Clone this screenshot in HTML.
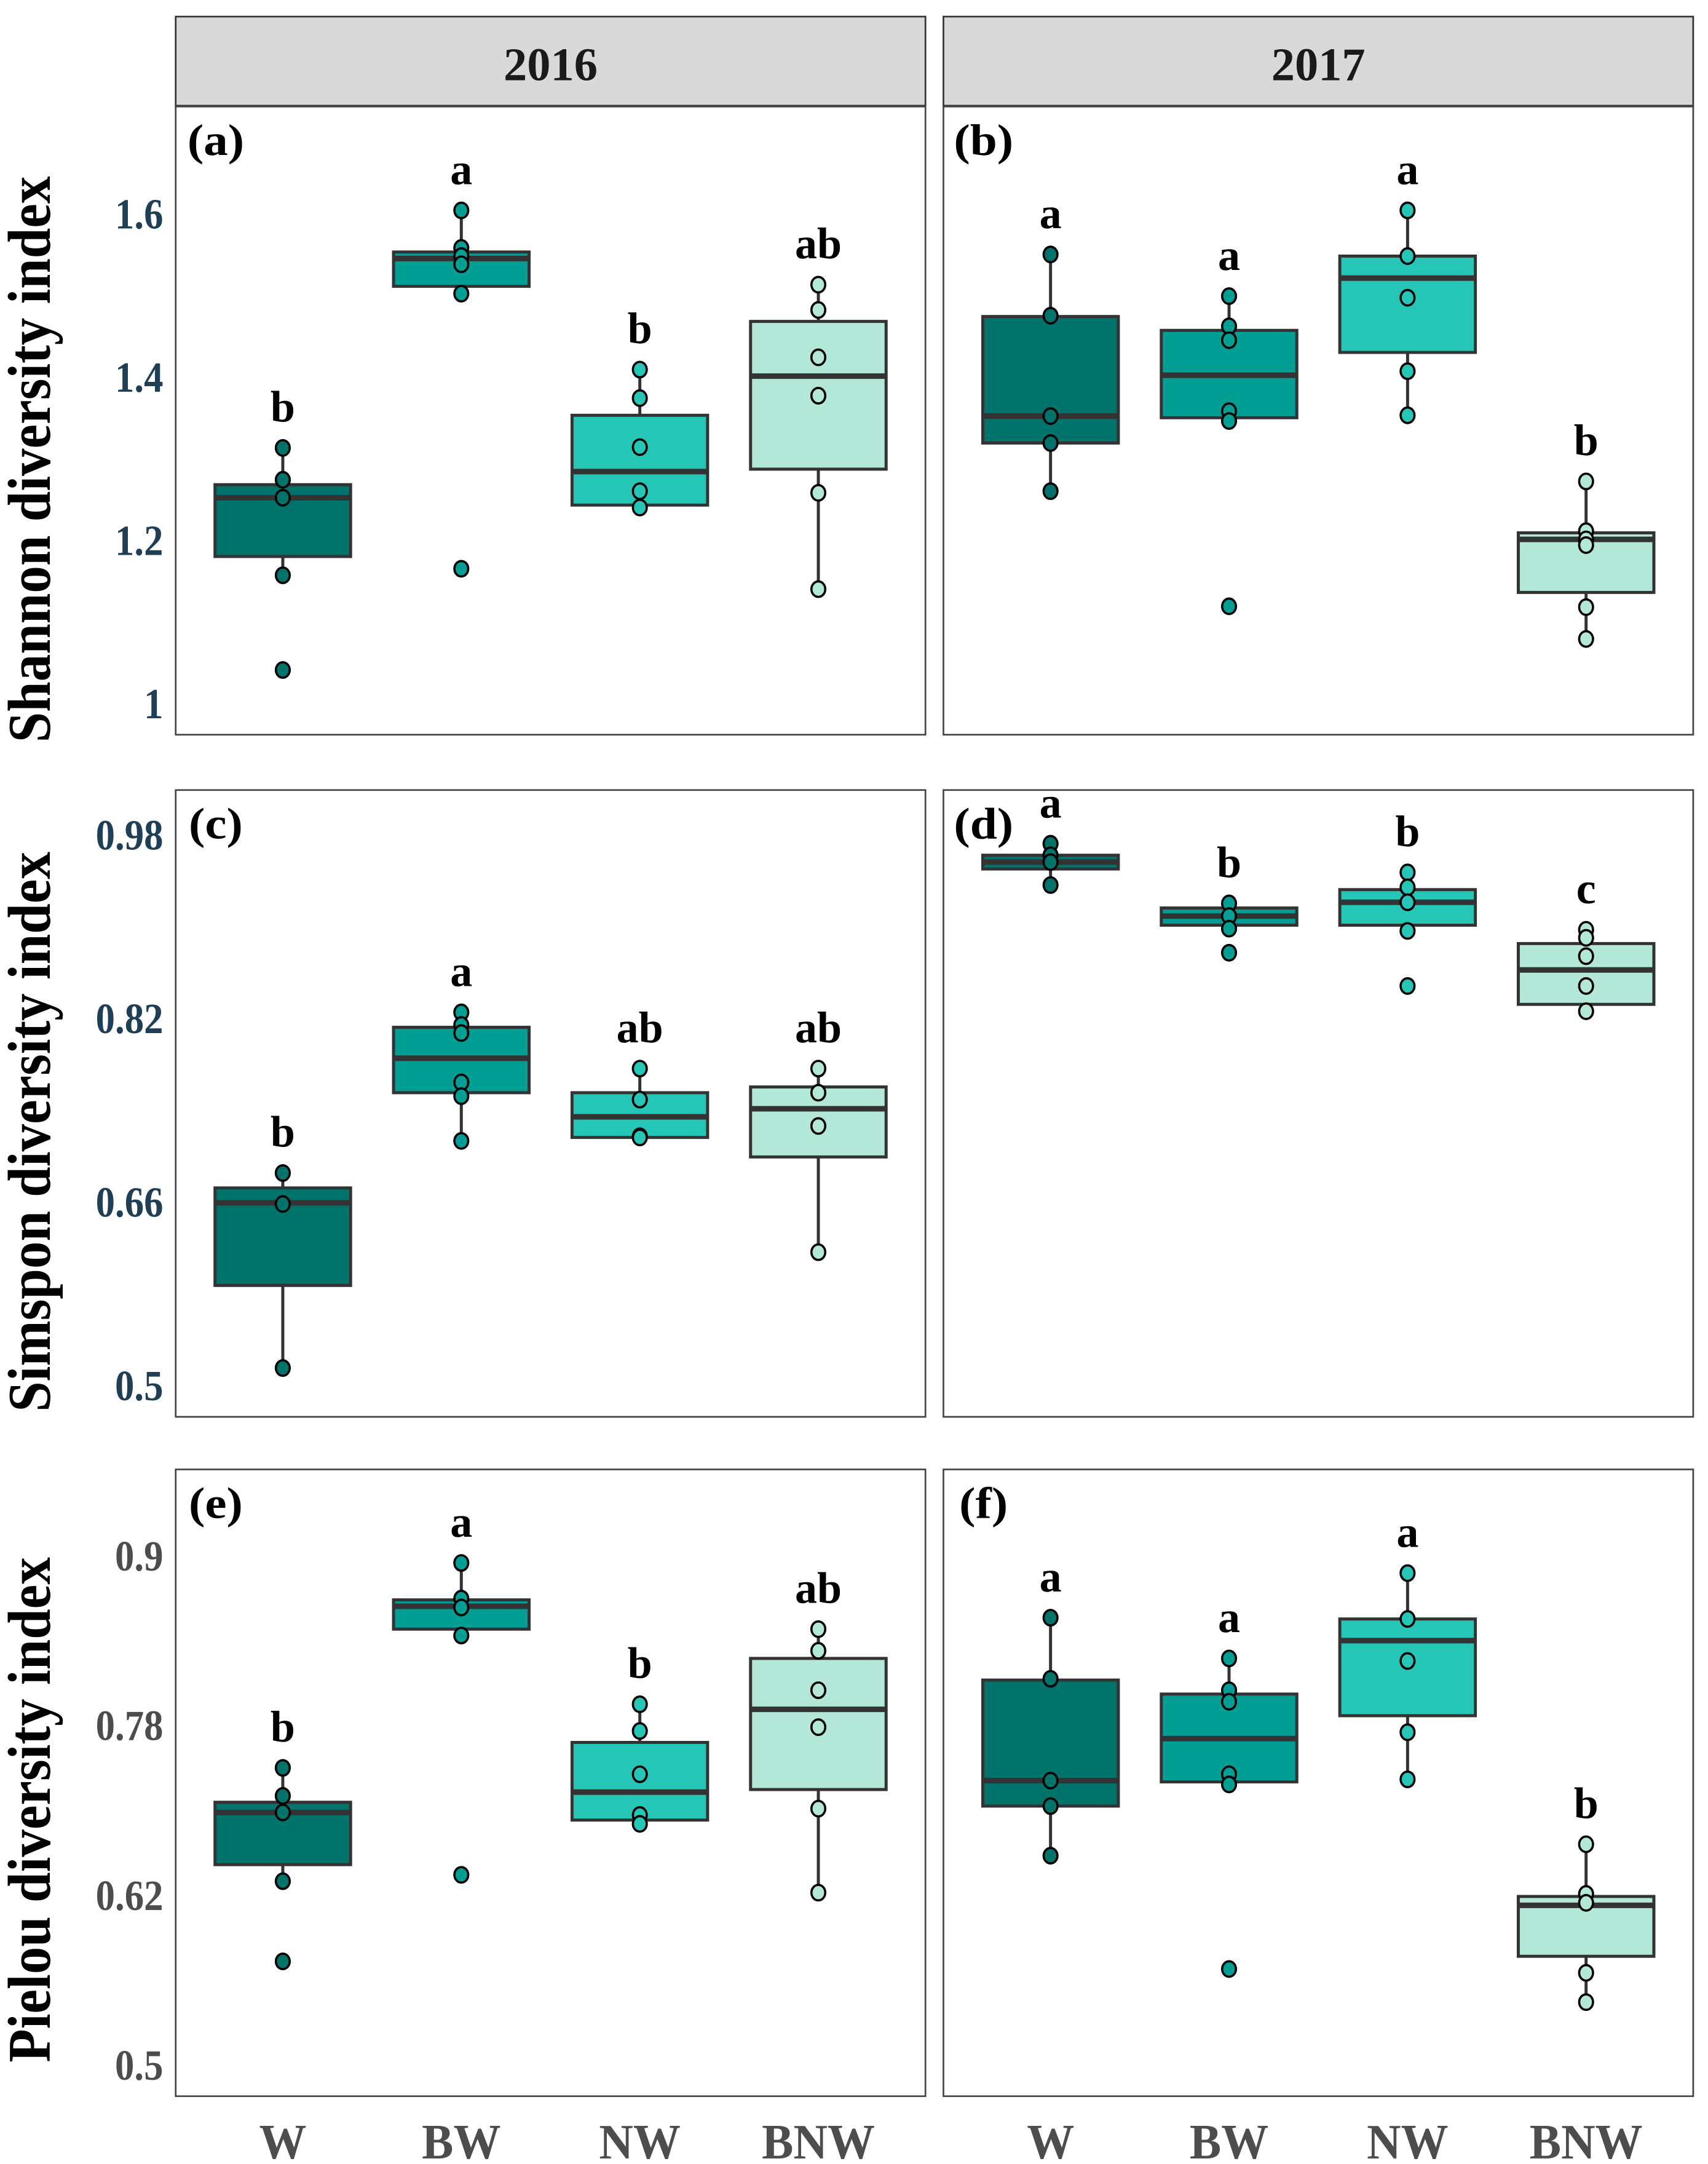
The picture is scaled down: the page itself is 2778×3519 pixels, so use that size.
<!DOCTYPE html>
<html><head><meta charset="utf-8">
<style>
html,body{margin:0;padding:0;background:#fff;}
svg{display:block;}
text{font-family:"Liberation Serif",serif;font-weight:bold;}
</style></head>
<body>
<svg id="chart" xmlns="http://www.w3.org/2000/svg" width="2778" height="3519" viewBox="0 0 1234.7 1564" preserveAspectRatio="none">
<rect x="0" y="0" width="1234.7" height="1564" fill="#fff"/>
<g id="root"></g>
</svg>
<script>
const categories=['W','BW','NW','BNW'];
const fills=['#00736b','#009e93','#26c6b7','#b3e8d9'];
const years=['2016','2017'];
const panelLabels=['(a)','(b)','(c)','(d)','(e)','(f)'];
const rowTitles=['Shannon diversity index','Simspon diversity index','Pielou diversity index'];
const shTicks=[1,1.2,1.4,1.6];
const shTickLabels=['1','1.2','1.4','1.6'];
const siTicks=[0.5,0.66,0.82,0.98];
const siTickLabels=['0.5','0.66','0.82','0.98'];
const piTicks=[0.5,0.6333,0.7667,0.9];
const piTickLabels=['0.5','0.62','0.78','0.9'];
// panel a
const aQ1=[1.181,1.512,1.244,1.288];const aMed=[1.253,1.546,1.285,1.402];const aQ3=[1.269,1.554,1.354,1.469];
const aLo=[1.158,1.503,1.241,1.141];const aHi=[1.314,1.605,1.410,1.514];
const aPts=[[1.314,1.275,1.253,1.158,1.042],[1.605,1.559,1.549,1.539,1.503,1.166],[1.41,1.375,1.315,1.261,1.241],[1.514,1.483,1.425,1.378,1.259,1.141]];
const aLet=['b','a','b','ab'];
// panel b
const bQ1=[1.320,1.351,1.431,1.137];const bMed=[1.353,1.403,1.522,1.202];const bQ3=[1.475,1.458,1.549,1.210];
const bLo=[1.261,1.347,1.354,1.080];const bHi=[1.551,1.5,1.605,1.273];
const bPts=[[1.551,1.476,1.353,1.320,1.261],[1.5,1.463,1.446,1.359,1.347,1.120],[1.605,1.549,1.498,1.408,1.354],[1.273,1.212,1.202,1.195,1.119,1.080]];
const bLet=['a','a','a','b'];
// panel c
const cQ1=[0.588,0.756,0.717,0.700];const cMed=[0.660,0.786,0.735,0.742];const cQ3=[0.673,0.813,0.756,0.761];
const cLo=[0.516,0.714,0.717,0.617];const cHi=[0.686,0.826,0.777,0.777];
const cPts=[[0.686,0.659,0.516],[0.826,0.815,0.808,0.765,0.753,0.714],[0.777,0.750,0.718,0.717],[0.777,0.756,0.727,0.617]];
const cLet=['b','a','ab','ab'];
// panel d
const dQ1=[0.951,0.902,0.902,0.833];const dMed=[0.957,0.910,0.922,0.863];const dQ3=[0.963,0.917,0.933,0.886];
const dLo=[0.937,0.899,0.897,0.827];const dHi=[0.973,0.921,0.948,0.898];
const dPts=[[0.973,0.963,0.957,0.937],[0.921,0.910,0.899,0.878],[0.948,0.935,0.922,0.897,0.849],[0.898,0.891,0.875,0.849,0.827]];
const dLet=['a','b','b','c'];
// panel e
const eQ1=[0.658,0.843,0.693,0.717];const eMed=[0.699,0.861,0.715,0.780];const eQ3=[0.707,0.866,0.754,0.820];
const eLo=[0.645,0.838,0.690,0.636];const eHi=[0.734,0.895,0.784,0.843];
const ePts=[[0.734,0.712,0.699,0.645,0.582],[0.895,0.867,0.860,0.838,0.650],[0.784,0.763,0.729,0.697,0.690],[0.843,0.826,0.795,0.766,0.702,0.636]];
const eLet=['b','a','b','ab'];
// panel f
const fQ1=[0.704,0.723,0.775,0.586];const fMed=[0.724,0.757,0.834,0.626];const fQ3=[0.803,0.792,0.851,0.633];
const fLo=[0.665,0.721,0.725,0.550];const fHi=[0.852,0.820,0.887,0.674];
const fPts=[[0.852,0.804,0.724,0.704,0.665],[0.820,0.795,0.786,0.729,0.721,0.576],[0.887,0.851,0.818,0.762,0.725],[0.674,0.635,0.628,0.573,0.550]];
const fLet=['a','a','a','b'];

const NS='http://www.w3.org/2000/svg';
const root=document.getElementById('root');
function mk(tag,attrs,parent){const e=document.createElementNS(NS,tag);for(const k in attrs)e.setAttribute(k,attrs[k]);(parent||root).appendChild(e);return e;}
function txt(s,x,y,size,fill,anchor,sx,parent,rot){
  const t=mk('text',{x:0,y:0,'font-size':size,fill:fill,'text-anchor':anchor||'middle',transform:'translate('+x+','+y+')'+(rot?' rotate('+rot+')':'')+' scale('+(sx||0.82)+',1)'},parent);
  t.textContent=s;return t;
}
const cols=[{x0:127,x1:669},{x0:682,x1:1224}];
const rows=[{y0:77,y1:531,v0:1,p0:509,v1:1.6,p1:155,ticks:shTicks,tl:shTickLabels,tc:'#1f3f56',tcy:332},
            {y0:571,y1:1024,v0:0.5,p0:1002,v1:0.98,p1:604,ticks:siTicks,tl:siTickLabels,tc:'#1f3f56',tcy:818},
            {y0:1062,y1:1515,v0:0.5,p0:1493,v1:0.9,p1:1125,ticks:piTicks,tl:piTickLabels,tc:'#4d4d4d',tcy:1308}];
const panels=[
 [aQ1,aMed,aQ3,aLo,aHi,aPts,aLet],[bQ1,bMed,bQ3,bLo,bHi,bPts,bLet],
 [cQ1,cMed,cQ3,cLo,cHi,cPts,cLet],[dQ1,dMed,dQ3,dLo,dHi,dPts,dLet],
 [eQ1,eMed,eQ3,eLo,eHi,ePts,eLet],[fQ1,fMed,fQ3,fLo,fHi,fPts,fLet]];

years.forEach((yr,c)=>{
  const g=mk('g',{});
  
  
  mk('rect',{x:cols[c].x0,y:12,width:cols[c].x1-cols[c].x0,height:65,fill:'#d9d9d9',stroke:'#333','stroke-width':1.2},g);
  mk('line',{x1:cols[c].x0,x2:cols[c].x1,y1:77,y2:77,stroke:'#333','stroke-width':2.5},g);
  txt(yr,(cols[c].x0+cols[c].x1)/2,58,34,'#1a1a1a','middle',1.0,g);
});

rows.forEach((r,ri)=>{
  const yS=v=>r.p0+(v-r.v0)*(r.p1-r.p0)/(r.v1-r.v0);
  const tt=txt(rowTitles[ri],36,r.tcy,44,'#000','middle',0.9,null,-90);
  
  
  r.ticks.forEach((tv,k)=>{
    const tl=txt(r.tl[k],118,yS(tv)+10,31,r.tc,'end',0.9);
    
    
  });
  cols.forEach((col,ci)=>{
    const pi=ri*2+ci;const P=panels[pi];
    const xS=i=>col.x0+(i+0.6)*(col.x1-col.x0)/4.2;
    const g=mk('g',{});
    
    
    mk('rect',{x:col.x0,y:r.y0,width:col.x1-col.x0,height:r.y1-r.y0,fill:'#fff',stroke:'#444','stroke-width':1.2},g);
    txt(panelLabels[pi],col.x0+29,r.y0+35,32,'#000','middle',1.1,g);
    categories.forEach((cat,i)=>{
      const x=xS(i);
      const bg=mk('g',{},g);
      
      
      mk('line',{x1:x,x2:x,y1:yS(P[4][i]),y2:yS(P[3][i]),stroke:'#333','stroke-width':2.2},bg);
      mk('rect',{x:x-49,y:yS(P[2][i]),width:98,height:yS(P[0][i])-yS(P[2][i]),fill:fills[i],stroke:'#333','stroke-width':2.2},bg);
      mk('line',{x1:x-49,x2:x+49,y1:yS(P[1][i]),y2:yS(P[1][i]),stroke:'#333','stroke-width':4},bg);
      P[5][i].forEach(v=>{
        const c=mk('ellipse',{cx:x,cy:yS(v),rx:5,ry:5.6,fill:fills[i],stroke:'#000','stroke-width':1.6},bg);
        
        
      });
      const lt=txt(P[6][i],x,yS(P[4][i])-19,32,'#000','middle',1.0,g);
      
      
      if(ri===2){
        const xl=txt(cat,x,1560,36,'#4d4d4d','middle',0.95);
        
        
      }
    });
  });
});
</script>
</body></html>
